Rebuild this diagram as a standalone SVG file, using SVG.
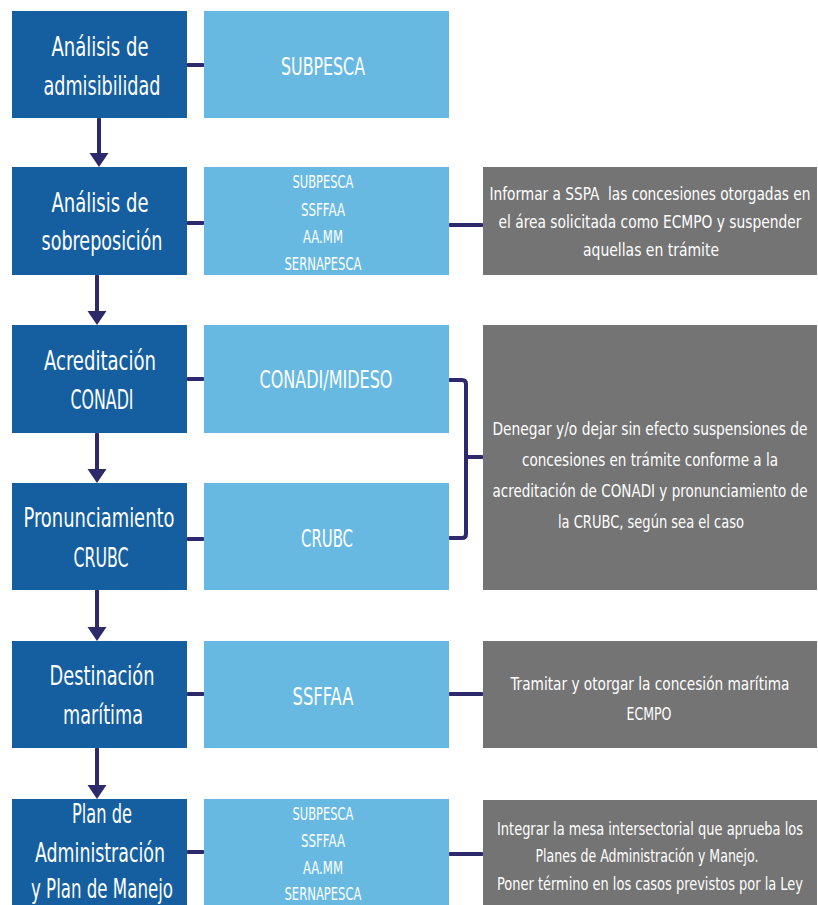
<svg xmlns="http://www.w3.org/2000/svg" width="818" height="905" viewBox="0 0 818 905">
<style>
text{font-family:"Liberation Sans Narrow","DejaVu Sans Condensed","Liberation Sans",sans-serif;fill:#ffffff;text-anchor:middle}
.step{fill:#155ea0}
.actor{fill:#68b9e2}
.act{fill:#747474}
.t1{font-size:19px}
.t2{font-size:18px}
.t3{font-size:13px}
.t4{font-size:14px}
.con{fill:none;stroke:#2d2a6c;stroke-width:4;stroke-linecap:round;stroke-linejoin:round}
</style>
<defs>
<marker id="ah" markerUnits="userSpaceOnUse" markerWidth="14" markerHeight="20" viewBox="0 0 14 20" refX="2" refY="10" orient="auto">
<path d="M0,0.5 L14,10 L0,19.5 Z" fill="#2d2a6c"/>
</marker>
</defs>

<g id="connectors">
<line class="con" x1="99" y1="119" x2="99" y2="155" marker-end="url(#ah)"/>
<line class="con" x1="97" y1="276" x2="97" y2="313" marker-end="url(#ah)"/>
<line class="con" x1="97" y1="434" x2="97" y2="471" marker-end="url(#ah)"/>
<line class="con" x1="97" y1="591" x2="97" y2="629" marker-end="url(#ah)"/>
<line class="con" x1="97" y1="749" x2="97" y2="787" marker-end="url(#ah)"/>
<line class="con" x1="188" y1="65" x2="203" y2="65"/>
<line class="con" x1="188" y1="223" x2="203" y2="223"/>
<line class="con" x1="188" y1="379" x2="203" y2="379"/>
<line class="con" x1="188" y1="539" x2="203" y2="539"/>
<line class="con" x1="188" y1="694" x2="203" y2="694"/>
<line class="con" x1="188" y1="852" x2="203" y2="852"/>
<line class="con" x1="450" y1="225" x2="482" y2="225"/>
<line class="con" x1="450" y1="694" x2="482" y2="694"/>
<line class="con" x1="450" y1="854" x2="482" y2="854"/>
<path class="con" d="M450,380 H462 Q466,380 466,384 V534 Q466,538 462,538 H450 M466,457 H482"/>
</g>

<g id="step1">
<rect class="step" x="12" y="11" width="175" height="107"/>
<text class="t1" x="100" y="56" transform="matrix(1 0 0 1.4 0 -22.4)" textLength="97" lengthAdjust="spacingAndGlyphs">Análisis de</text>
<text class="t1" x="102" y="95" transform="matrix(1 0 0 1.4 0 -38)" textLength="117" lengthAdjust="spacingAndGlyphs">admisibilidad</text>
</g>
<g id="actor1">
<rect class="actor" x="204" y="11" width="245" height="107"/>
<text class="t2" x="323" y="75" transform="matrix(1 0 0 1.38 0 -28.5)" textLength="84" lengthAdjust="spacingAndGlyphs">SUBPESCA</text>
</g>

<g id="step2">
<rect class="step" x="12" y="167" width="175" height="108"/>
<text class="t1" x="100" y="212" transform="matrix(1 0 0 1.4 0 -84.8)" textLength="97" lengthAdjust="spacingAndGlyphs">Análisis de</text>
<text class="t1" x="102" y="250" transform="matrix(1 0 0 1.4 0 -100)" textLength="121" lengthAdjust="spacingAndGlyphs">sobreposición</text>
</g>
<g id="actor2">
<rect class="actor" x="204" y="167" width="245" height="108"/>
<text class="t3" x="323" y="188" transform="matrix(1 0 0 1.38 0 -71.44)" textLength="61" lengthAdjust="spacingAndGlyphs">SUBPESCA</text>
<text class="t3" x="323" y="216" transform="matrix(1 0 0 1.38 0 -82.08)" textLength="44" lengthAdjust="spacingAndGlyphs">SSFFAA</text>
<text class="t3" x="323" y="243" transform="matrix(1 0 0 1.38 0 -92.34)" textLength="40" lengthAdjust="spacingAndGlyphs">AA.MM</text>
<text class="t3" x="323" y="270" transform="matrix(1 0 0 1.38 0 -102.6)" textLength="77" lengthAdjust="spacingAndGlyphs">SERNAPESCA</text>
</g>
<g id="action2">
<rect class="act" x="483" y="167" width="334" height="108"/>
<text class="t4" x="650" y="200" transform="matrix(1 0 0 1.3 0 -60)" textLength="321" lengthAdjust="spacingAndGlyphs" xml:space="preserve">Informar a SSPA  las concesiones otorgadas en</text>
<text class="t4" x="650" y="228" transform="matrix(1 0 0 1.3 0 -68.4)" textLength="303" lengthAdjust="spacingAndGlyphs">el área solicitada como ECMPO y suspender</text>
<text class="t4" x="651" y="256" transform="matrix(1 0 0 1.3 0 -76.8)" textLength="136" lengthAdjust="spacingAndGlyphs">aquellas en trámite</text>
</g>

<g id="step3">
<rect class="step" x="12" y="325" width="175" height="108"/>
<text class="t1" x="100" y="370" transform="matrix(1 0 0 1.4 0 -148)" textLength="112" lengthAdjust="spacingAndGlyphs">Acreditación</text>
<text class="t1" x="102" y="409" transform="matrix(1 0 0 1.4 0 -163.6)" textLength="63" lengthAdjust="spacingAndGlyphs">CONADI</text>
</g>
<g id="actor3">
<rect class="actor" x="204" y="325" width="245" height="108"/>
<text class="t2" x="326" y="388" transform="matrix(1 0 0 1.38 0 -147.44)" textLength="133" lengthAdjust="spacingAndGlyphs">CONADI/MIDESO</text>
</g>

<g id="step4">
<rect class="step" x="12" y="483" width="175" height="107"/>
<text class="t1" x="99" y="527" transform="matrix(1 0 0 1.4 0 -210.8)" textLength="151" lengthAdjust="spacingAndGlyphs">Pronunciamiento</text>
<text class="t1" x="101" y="567" transform="matrix(1 0 0 1.4 0 -226.8)" textLength="55" lengthAdjust="spacingAndGlyphs">CRUBC</text>
</g>
<g id="actor4">
<rect class="actor" x="204" y="483" width="245" height="107"/>
<text class="t2" x="327" y="547" transform="matrix(1 0 0 1.38 0 -207.86)" textLength="52" lengthAdjust="spacingAndGlyphs">CRUBC</text>
</g>
<g id="action34">
<rect class="act" x="483" y="325" width="334" height="265"/>
<text class="t4" x="650" y="435" transform="matrix(1 0 0 1.3 0 -130.5)" textLength="315" lengthAdjust="spacingAndGlyphs">Denegar y/o dejar sin efecto suspensiones de</text>
<text class="t4" x="650" y="466" transform="matrix(1 0 0 1.3 0 -139.8)" textLength="256" lengthAdjust="spacingAndGlyphs">concesiones en trámite conforme a la</text>
<text class="t4" x="650" y="497" transform="matrix(1 0 0 1.3 0 -149.1)" textLength="315" lengthAdjust="spacingAndGlyphs">acreditación de CONADI y pronunciamiento de</text>
<text class="t4" x="651" y="528" transform="matrix(1 0 0 1.3 0 -158.4)" textLength="186" lengthAdjust="spacingAndGlyphs">la CRUBC, según sea el caso</text>
</g>

<g id="step5">
<rect class="step" x="12" y="641" width="175" height="107"/>
<text class="t1" x="102" y="685" transform="matrix(1 0 0 1.4 0 -274)" textLength="105" lengthAdjust="spacingAndGlyphs">Destinación</text>
<text class="t1" x="103" y="724" transform="matrix(1 0 0 1.4 0 -289.6)" textLength="80" lengthAdjust="spacingAndGlyphs">marítima</text>
</g>
<g id="actor5">
<rect class="actor" x="204" y="641" width="245" height="107"/>
<text class="t2" x="323" y="705" transform="matrix(1 0 0 1.38 0 -267.9)" textLength="61" lengthAdjust="spacingAndGlyphs">SSFFAA</text>
</g>
<g id="action5">
<rect class="act" x="483" y="641" width="334" height="107"/>
<text class="t4" x="650" y="690" transform="matrix(1 0 0 1.3 0 -207)" textLength="279" lengthAdjust="spacingAndGlyphs">Tramitar y otorgar la concesión marítima</text>
<text class="t4" x="649" y="720" transform="matrix(1 0 0 1.3 0 -216)" textLength="45" lengthAdjust="spacingAndGlyphs">ECMPO</text>
</g>

<g id="step6">
<rect class="step" x="12" y="799" width="175" height="110"/>
<text class="t1" x="102" y="823" transform="matrix(1 0 0 1.4 0 -329.2)" textLength="60" lengthAdjust="spacingAndGlyphs">Plan de</text>
<text class="t1" x="100" y="862" transform="matrix(1 0 0 1.4 0 -344.8)" textLength="130" lengthAdjust="spacingAndGlyphs">Administración</text>
<text class="t1" x="102" y="898" transform="matrix(1 0 0 1.4 0 -359.2)" textLength="142" lengthAdjust="spacingAndGlyphs">y Plan de Manejo</text>
</g>
<g id="actor6">
<rect class="actor" x="204" y="799" width="245" height="110"/>
<text class="t3" x="323" y="820" transform="matrix(1 0 0 1.38 0 -311.6)" textLength="61" lengthAdjust="spacingAndGlyphs">SUBPESCA</text>
<text class="t3" x="323" y="847" transform="matrix(1 0 0 1.38 0 -321.86)" textLength="44" lengthAdjust="spacingAndGlyphs">SSFFAA</text>
<text class="t3" x="323" y="874" transform="matrix(1 0 0 1.38 0 -332.12)" textLength="40" lengthAdjust="spacingAndGlyphs">AA.MM</text>
<text class="t3" x="323" y="900" transform="matrix(1 0 0 1.38 0 -342)" textLength="77" lengthAdjust="spacingAndGlyphs">SERNAPESCA</text>
</g>
<g id="action6">
<rect class="act" x="483" y="800" width="334" height="110"/>
<text class="t4" x="650" y="835" transform="matrix(1 0 0 1.3 0 -250.5)" textLength="306" lengthAdjust="spacingAndGlyphs">Integrar la mesa intersectorial que aprueba los</text>
<text class="t4" x="647" y="862" transform="matrix(1 0 0 1.3 0 -258.6)" textLength="223" lengthAdjust="spacingAndGlyphs">Planes de Administración y Manejo.</text>
<text class="t4" x="650" y="890" transform="matrix(1 0 0 1.3 0 -267)" textLength="306" lengthAdjust="spacingAndGlyphs">Poner término en los casos previstos por la Ley</text>
</g>
</svg>
